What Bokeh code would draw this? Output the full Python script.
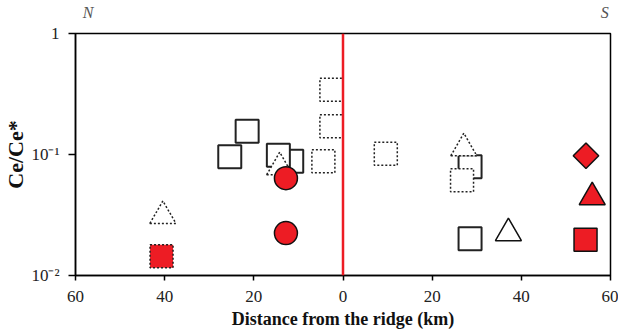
import math
from bokeh.plotting import figure
from bokeh.models import Range1d, FixedTicker, Span, LinearAxis
from bokeh.embed import file_html
from bokeh.resources import INLINE

# ---- data (distance in km: negative = north, positive = south) ----
dotted_sq_x = [-2.6, -2.6, -4.4, 9.6, 26.7]
dotted_sq_y = [0.343, 0.171, 0.088, 0.1016, 0.0613]

solid_sq_x = [-25.4, -21.5, -11.5, -14.5, 28.5, 28.5]
solid_sq_y = [0.0959, 0.156, 0.0881, 0.0987, 0.0793, 0.0201]

dotted_tri_x = [-40.4, -14.2, 27.1]
dotted_tri_y = [0.0311, 0.0785, 0.1127]

open_tri_x = [37.1]
open_tri_y = [0.0224]

red_dotted_sq_x = [-40.7]
red_dotted_sq_y = [0.01444]

red_circle_x = [-12.8, -12.8]
red_circle_y = [0.0637, 0.0224]

red_diamond_x = [54.5]
red_diamond_y = [0.0977]

red_tri_x = [55.9]
red_tri_y = [0.0444]

red_sq_x = [54.4]
red_sq_y = [0.0197]

x_ticks = [-60, -40, -20, 0, 20, 40, 60]
x_tick_labels = ["60", "40", "20", "0", "20", "40", "60"]
y_ticks = [0.01, 0.1, 1]
y_tick_labels = ["10\u207b\u00b2", "10\u207b\u00b9", "1"]
side_ticks = [-57.2, 58.7]
side_labels = ["N", "S"]

RED = "#ed1c24"
SERIF = "Liberation Serif"

p = figure(width=618, height=334, output_backend="svg", toolbar_location=None,
           x_range=Range1d(-60, 60), y_range=Range1d(0.01, 1), y_axis_type="log",
           min_border_left=73, min_border_right=8, min_border_top=33, min_border_bottom=59)
p.background_fill_color = "white"
p.border_fill_color = "white"
p.outline_line_color = "black"
p.outline_line_width = 1.5
p.xgrid.visible = False
p.ygrid.visible = False

# axes
p.xaxis.ticker = FixedTicker(ticks=x_ticks)
p.xaxis.major_label_overrides = {t: l for t, l in zip(x_ticks, x_tick_labels)}
p.yaxis.ticker = FixedTicker(ticks=y_ticks, minor_ticks=[])
p.yaxis.major_label_overrides = {t: l for t, l in zip(y_ticks, y_tick_labels)}
for ax in (p.xaxis, p.yaxis):
    ax.axis_line_color = "black"
    ax.axis_line_width = 1.5
    ax.major_tick_line_color = "black"
    ax.major_tick_line_width = 1.5
    ax.major_tick_in = 0
    ax.minor_tick_line_color = None
    ax.major_label_text_font = SERIF
    ax.major_label_text_font_size = "17px"
    ax.major_label_text_color = "#222222"
    ax.axis_label_text_font = SERIF
    ax.axis_label_text_font_style = "bold"
    ax.axis_label_text_color = "#111111"
p.xaxis.major_tick_out = 5
p.yaxis.major_tick_out = 7
p.xaxis.major_label_standoff = 10
p.yaxis.major_label_standoff = 9
p.xaxis.axis_label = "Distance from the ridge (km)"
p.xaxis.axis_label_text_font_size = "18px"
p.xaxis.axis_label_standoff = 4
p.yaxis.axis_label = "Ce/Ce*"
p.yaxis.axis_label_text_font_size = "22px"
p.yaxis.axis_label_standoff = 0

# N / S side labels as an extra axis above the plot
top_axis = LinearAxis(ticker=FixedTicker(ticks=side_ticks),
                      major_label_overrides={t: l for t, l in zip(side_ticks, side_labels)})
top_axis.axis_line_color = None
top_axis.major_tick_line_color = None
top_axis.minor_tick_line_color = None
top_axis.major_label_standoff = 7
top_axis.major_label_text_font = SERIF
top_axis.major_label_text_font_style = "italic"
top_axis.major_label_text_font_size = "16px"
top_axis.major_label_text_color = "#555555"
p.add_layout(top_axis, "above")

# ridge line
p.add_layout(Span(location=0, dimension="height", line_color=RED, line_width=2.5))

# markers
p.scatter(solid_sq_x, solid_sq_y, marker="square", size=23,
          fill_color="white", line_color="#222222", line_width=2)
p.scatter(dotted_sq_x, dotted_sq_y, marker="square", size=23,
          fill_color="white", line_color="#222222", line_width=1.5, line_dash="2 2")
p.scatter(dotted_tri_x, dotted_tri_y, marker="triangle", size=26,
          fill_color="white", line_color="#222222", line_width=1.5, line_dash="2 2")
p.scatter(open_tri_x, open_tri_y, marker="triangle", size=26,
          fill_color="white", line_color="#111111", line_width=1.5)
p.scatter(red_dotted_sq_x, red_dotted_sq_y, marker="square", size=23,
          fill_color=RED, line_color="#222222", line_width=1.5, line_dash="2 2")
p.scatter(red_circle_x, red_circle_y, marker="circle", size=23,
          fill_color=RED, line_color="#111111", line_width=1.5)
p.scatter(red_diamond_x, red_diamond_y, marker="square", size=18, angle=math.pi / 4,
          fill_color=RED, line_color="#111111", line_width=1.5)
p.scatter(red_tri_x, red_tri_y, marker="triangle", size=26,
          fill_color=RED, line_color="#111111", line_width=1.5)
p.scatter(red_sq_x, red_sq_y, marker="square", size=23,
          fill_color=RED, line_color="#111111", line_width=1.5)

open("out.html", "w").write(file_html(p, INLINE))
